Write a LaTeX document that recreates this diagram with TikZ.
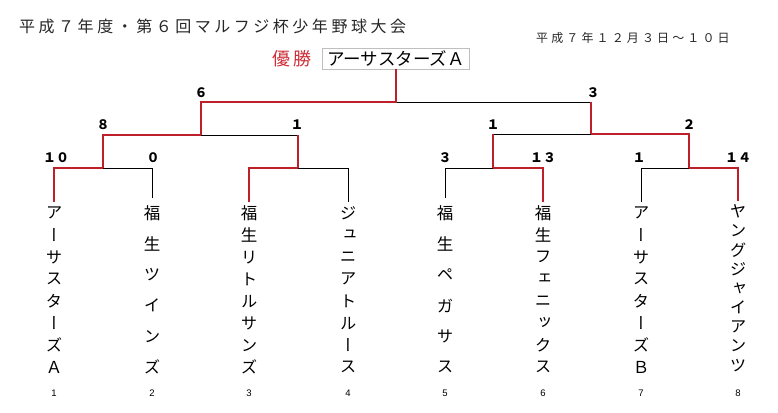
\documentclass[tikz,border=0pt]{standalone}
\usepackage{fontspec}
\setmainfont{Noto Sans CJK JP}
\newfontfamily\titlejp[LetterSpace=22]{Noto Sans CJK JP}
\newfontfamily\datejp[LetterSpace=26]{Noto Sans CJK JP}
\newfontfamily\vertjp[RawFeature=+vert]{Noto Sans CJK JP}
\newfontfamily\idxfont{Liberation Sans}
\definecolor{winred}{RGB}{190,32,42}
\definecolor{labelred}{RGB}{205,45,55}
\newcommand\teamstack[2]{\vbox{\offinterlineskip\foreach \tch in {#2}{\hbox to 20pt{\hss\vbox to #1pt{\vss\hbox{\tch}\vss}\hss}}}}
\tikzset{
  win/.style={draw=winred, line width=2.5pt},
  lose/.style={draw=black, line width=1pt},
  team/.style={anchor=north, inner sep=0pt, font=\vertjp\fontsize{16.5}{16.5}\selectfont},
  score/.style={inner sep=0pt, font=\fontsize{13}{13}\selectfont\bfseries},
  idx/.style={inner sep=0pt, font=\idxfont\fontsize{9.5}{9.5}\selectfont},
  champbox/.style={draw=black!25, line width=0.7pt, minimum width=147pt, minimum height=21pt, inner sep=0pt, font=\fontsize{17.5}{17.5}\selectfont},
}
\begin{document}
\begin{tikzpicture}[x=1pt,y=-1pt]
\useasboundingbox (0,0) rectangle (778,412);
% headings
\node[anchor=west, inner sep=0pt, text=black!85] (title) at (19,26) {\titlejp\fontsize{16}{16}\selectfont 平成７年度・第６回マルフジ杯少年野球大会};
\node[anchor=west, inner sep=0pt, text=black!85] (date) at (536,38) {\datejp\fontsize{12}{12}\selectfont 平成７年１２月３日～１０日};
\node[inner sep=0pt, text=labelred, font=\fontsize{18}{18}\selectfont] (yusho) at (292,58.5) {優\hspace{3pt}勝};
\node[champbox] (champ) at (396,58.5) {アーサスターズＡ};
% junctions
\coordinate (F) at (396,102);
\coordinate (SL) at (201,135);
\coordinate (SR) at (591,134);
\coordinate (QL1) at (103,168);
\coordinate (QL2) at (298,168);
\coordinate (QR1) at (493,168);
\coordinate (QR2) at (689,168);
% teams
\node[team] (t1) at (54,202) {\teamstack{22}{ア,ー,サ,ス,タ,ー,ズ,Ａ}};
\node[team] (t2) at (152,197.6) {\teamstack{30.8}{福,生,ツ,イ,ン,ズ}};
\node[team] (t3) at (249,202) {\teamstack{22}{福,生,リ,ト,ル,サ,ン,ズ}};
\node[team] (t4) at (348,202) {\teamstack{22}{ジ,ュ,ニ,ア,ト,ル,ー,ス}};
\node[team] (t5) at (445,197.6) {\teamstack{30.8}{福,生,ペ,ガ,サ,ス}};
\node[team] (t6) at (543,202) {\teamstack{22}{福,生,フ,ェ,ニ,ッ,ク,ス}};
\node[team] (t7) at (641,202) {\teamstack{22}{ア,ー,サ,ス,タ,ー,ズ,Ｂ}};
\node[team] (t8) at (738,201.4) {\teamstack{19.25}{ヤ,ン,グ,ジ,ャ,イ,ア,ン,ツ}};
% team numbers
\node[idx] (n1) at (54,393) {1};
\node[idx] (n2) at (152,393) {2};
\node[idx] (n3) at (249,393) {3};
\node[idx] (n4) at (348,393) {4};
\node[idx] (n5) at (445,393) {5};
\node[idx] (n6) at (543,393) {6};
\node[idx] (n7) at (641,393) {7};
\node[idx] (n8) at (738,393) {8};
% losing lines
\draw[lose] (F) -- (F -| SR);
\draw[lose] (SL) -- (SL -| QL2);
\draw[lose] (SR) -- (SR -| QR1);
\draw[lose] (QL1) -| (t2.north);
\draw[lose] (QL2) -| (t4.north);
\draw[lose] (QR1) -| (t5.north);
\draw[lose] (QR2) -| (t7.north);
% winning lines
\draw[win] (champ.south) -- (F) -| (SL);
\draw[win] (F -| SR) -- (SR);
\draw[win] (SL) -| (QL1);
\draw[win] (SL -| QL2) -- (QL2);
\draw[win] (SR -| QR1) -- (QR1);
\draw[win] (SR) -| (QR2);
\draw[win] (QL1) -| (t1.north);
\draw[win] (QL2) -| (t3.north);
\draw[win] (QR1) -| (t6.north);
\draw[win] (QR2) -| (t8.north);
% scores
\node[score] (s6) at (201,93) {６};
\node[score] (s3) at (593,93) {３};
\node[score] (s8) at (103,125) {８};
\node[score] (s1a) at (297,125) {１};
\node[score] (s1b) at (493,125) {１};
\node[score] (s2) at (689,125) {２};
\node[score] (s10) at (56,158) {１０};
\node[score] (s0) at (153,158) {０};
\node[score] (s3b) at (445,158) {３};
\node[score] (s13) at (543,158) {１３};
\node[score] (s1c) at (639,158) {１};
\node[score] (s14) at (738,158) {１４};
\end{tikzpicture}
\end{document}
